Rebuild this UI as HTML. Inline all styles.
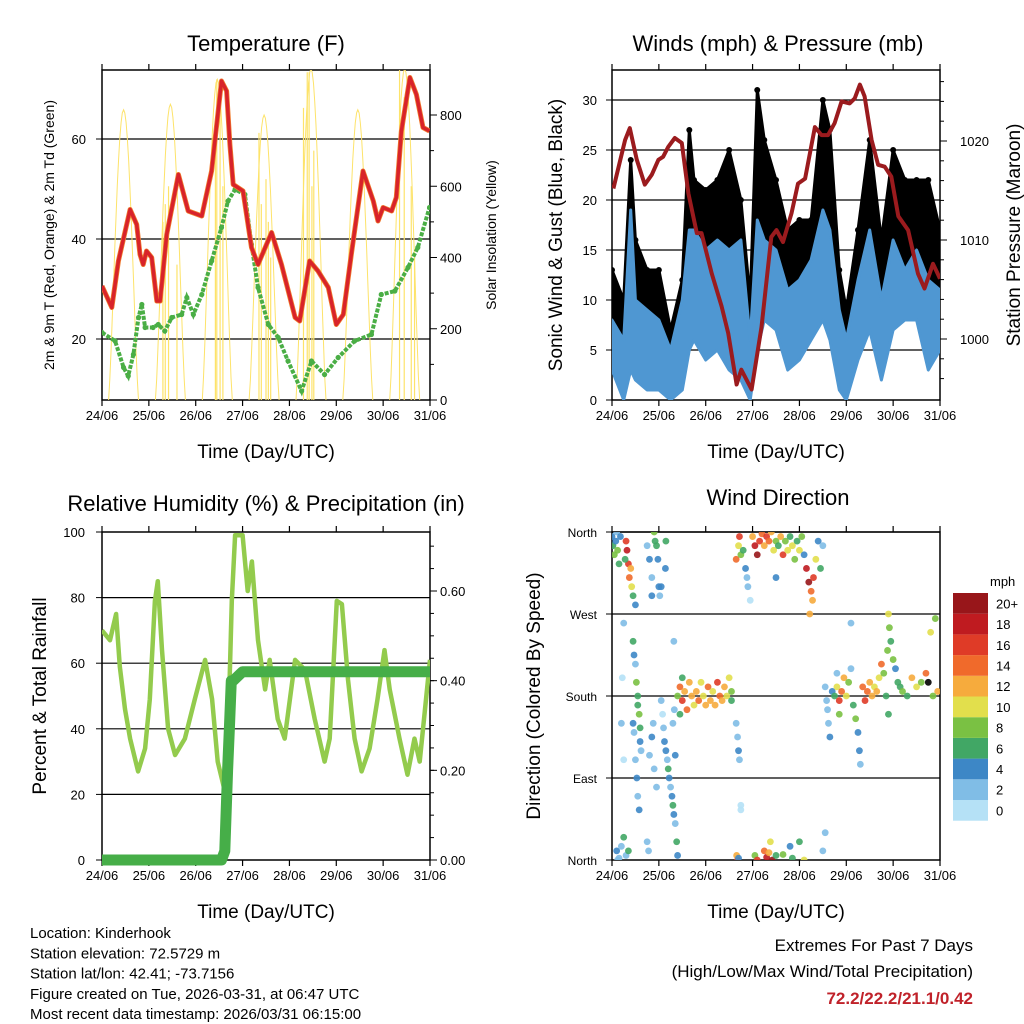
<!DOCTYPE html>
<html><head><meta charset="utf-8"><style>
html,body{margin:0;padding:0;background:#fff;}
svg{display:block;font-family:"Liberation Sans",Arial,sans-serif;}
</style></head><body>
<svg id="s" width="1024" height="1024" viewBox="0 0 1024 1024" xmlns="http://www.w3.org/2000/svg">
<defs>
<clipPath id="c1"><rect x="102" y="70" width="328" height="330"/></clipPath>
<clipPath id="c2"><rect x="612" y="70" width="328" height="330"/></clipPath>
<clipPath id="c3"><rect x="102" y="532" width="328" height="328"/></clipPath>
<clipPath id="c4"><rect x="612" y="532" width="328" height="328"/></clipPath>
</defs>
</svg>
<script>
// ---- data ----
const dayLabels=["24/06","25/06","26/06","27/06","28/06","29/06","30/06","31/06"];
const tempDays=[0,0.21,0.35,0.6,0.74,0.81,0.88,0.95,1.06,1.17,1.24,1.38,1.63,1.84,2.13,2.34,2.55,2.66,2.73,2.8,3.01,3.19,3.33,3.62,3.83,4.12,4.22,4.43,4.61,4.83,5.0,5.15,5.32,5.57,5.79,5.89,6.0,6.18,6.28,6.39,6.57,6.71,6.85,6.99];
const tempVals=[30.6,26.3,35.6,45.9,42.9,36.9,34.9,37.6,36.3,27.6,27.6,40.9,52.9,45.6,44.6,53.6,71.6,69.6,58.9,50.9,49.6,38.3,34.9,41.3,34.9,24.3,23.6,35.6,33.6,30.3,22.9,24.9,36.9,53.6,47.6,43.6,46.3,45.6,48.3,61.6,72.3,68.9,62.3,61.6];
const dewDays=[0,0.28,0.46,0.56,0.67,0.78,0.85,0.92,1.09,1.2,1.34,1.49,1.7,1.81,1.95,2.13,2.34,2.55,2.69,2.84,3.05,3.19,3.33,3.55,3.76,3.97,4.26,4.47,4.75,5.04,5.39,5.75,5.96,6.25,6.53,6.74,6.99];
const dewVals=[21.3,19.6,14.3,12.6,16.9,24.3,26.9,22.3,22.3,22.9,21.6,24.3,24.9,28.3,24.9,28.9,35.6,42.3,47.6,49.9,48.9,38.9,30.3,22.9,20.3,15.6,9.6,15.6,12.9,16.3,19.6,20.9,28.9,29.6,34.3,38.3,46.3];
const solarPeak=[815,830,900,800,930,815,930];
const spikeDays=[1.3,1.35,1.42,1.6,2.42,2.45,2.52,2.58,3.35,3.4,3.5,3.55,3.6,4.3,4.38,4.42,4.48,4.52,6.35,6.45,6.6,6.67];
const spikeVals=[500,550,600,380,700,900,850,600,750,550,620,500,400,820,920,920,600,700,927,850,600,400];
const presDays=[0.03,0.28,0.38,0.53,0.7,0.85,0.99,1.09,1.2,1.34,1.49,1.63,1.81,1.91,2.13,2.34,2.48,2.66,2.76,2.98,3.19,3.4,3.51,3.65,3.83,3.97,4.12,4.33,4.47,4.61,4.75,4.9,5.07,5.18,5.29,5.39,5.54,5.68,5.82,5.96,6.11,6.32,6.53,6.67,6.85,7.0];
const presVals=[1015.2,1020.1,1021.3,1018.1,1015.6,1016.6,1018.1,1018.4,1019.4,1020.3,1019.8,1014.7,1010.7,1010.7,1006.6,1003.3,1000.6,995.4,996.9,994.9,1001.2,1010.3,1011.0,1009.8,1012.7,1015.7,1016.2,1021.4,1020.6,1020.6,1021.8,1024.0,1023.8,1024.3,1025.7,1024.5,1020.1,1017.6,1017.4,1016.4,1012.4,1011.0,1006.6,1005.1,1007.6,1006.1];
const windDays=[0,0.25,0.4,0.5,0.75,1.0,1.25,1.5,1.65,1.75,2.0,2.25,2.5,2.75,2.95,3.1,3.25,3.5,3.75,4.0,4.25,4.5,4.65,4.85,5.0,5.25,5.5,5.75,6.0,6.25,6.5,6.75,7.0];
const windLow=[3,0,3,2,1,1,0,1,5,6,4,5,3,2,0,5,8,7,3,4,6,8,6,1,0,4,7,2,7,8,8,3,5];
const windHigh=[8,6,19,10,9,8,5,10,17,17,15,16,15,16,6,18,16,15,11,12,14,19,17,9,6,12,17,10,16,13,15,12,11];
const gustLow=[4,2,5,5,4,4,3,3,8,10,9,10,9,6,1,9,12,11,6,7,8,13,9,3,4,8,12,6,13,12,12,8,9];
const gustHigh=[13,10,24,16,13,13,7,12,27,22,21,22,25,20,10,31,26,22,17,18,18,30,27,13,9,17,26,16,25,22,22,22,17];
const rhDays=[0,0.17,0.3,0.38,0.49,0.6,0.77,0.92,1.02,1.13,1.19,1.28,1.41,1.56,1.77,1.98,2.2,2.35,2.47,2.62,2.69,2.77,2.84,3.0,3.11,3.2,3.33,3.48,3.58,3.75,3.9,4.01,4.12,4.33,4.54,4.75,4.86,5.01,5.12,5.25,5.39,5.54,5.71,5.88,6.03,6.14,6.35,6.52,6.67,6.78,7.0];
const rhVals=[70,67,75,59,46,37,27,34,49,79,85,64,40,32,37,49,61,49,30,21,37,79,99,99,82,91,67,52,61,43,37,49,61,58,43,30,37,79,78,55,37,27,34,49,64,52,37,26,37,30,61];
const precipDays=[0,2.55,2.62,2.68,2.72,2.76,2.8,3.0,7.0];
const precipVals=[0,0,0.02,0.2,0.3,0.4,0.4,0.42,0.42];
const dirDays=[0,0.02,0.05,0.08,0.1,0.12,0.15,0.18,0.3,0.32,0.35,0.37,0.4,0.42,0.45,0.5,0.28,0.8,0.85,0.75,0.9,0.92,0.95,0.98,1.0,1.02,1.05,1.15,1.14,0.85,0.1,0.15,0.2,0.25,0.3,0.35,0.12,0.25,0.22,0.2,0.25,0.45,0.47,0.5,0.52,0.55,0.55,0.58,0.6,0.6,0.5,0.53,0.55,0.58,0.45,0.47,0.62,0.75,0.78,0.8,0.85,0.88,0.9,0.95,1.05,1.08,1.1,1.12,1.15,1.18,1.2,1.22,1.25,1.28,1.3,1.32,1.35,1.3,1.33,1.35,1.32,1.38,1.4,1.4,1.45,1.5,1.55,1.6,1.65,1.7,1.75,1.8,1.85,1.9,1.95,2.0,2.05,2.1,2.15,2.2,2.25,2.3,2.35,2.4,2.45,2.5,2.55,2.55,1.45,1.5,2.65,2.68,2.7,2.72,2.75,2.68,2.66,2.7,2.65,2.7,2.72,2.75,2.8,2.85,2.9,2.95,2.88,3.0,3.05,3.1,3.15,3.2,3.25,3.3,3.35,3.4,3.45,3.5,3.55,3.6,3.65,3.7,3.75,3.8,3.85,3.9,3.95,4.0,4.05,4.1,4.15,4.2,4.25,4.28,4.3,4.35,4.4,4.45,4.5,3.5,4.22,3.05,3.1,3.25,3.3,3.35,3.38,3.42,3.5,3.65,3.8,3.85,4.0,4.5,4.55,4.1,2.75,4.55,4.58,4.6,4.62,4.65,4.7,4.75,4.8,4.85,4.9,4.95,5.0,5.05,5.1,5.15,5.2,5.25,5.28,5.3,5.35,5.4,4.8,4.85,5.45,5.5,5.55,5.6,5.65,5.7,5.75,5.8,5.85,5.9,5.92,5.95,6.0,6.05,6.1,6.15,6.2,6.3,5.1,5.88,5.9,6.4,6.5,6.6,6.7,6.8,6.9,6.95,6.85,6.75];
const dirVals=[355,345,335,350,360,340,325,355,350,340,325,310,320,300,290,280,330,330,310,345,360,350,345,330,300,290,300,350,320,290,10,2,15,25,5,10,0,260,200,150,110,240,225,215,195,180,170,160,145,130,110,90,70,55,150,140,120,20,10,115,135,150,100,80,175,160,145,130,120,110,100,90,80,70,60,50,40,150,165,115,240,20,5,180,190,175,185,165,195,180,170,185,175,195,180,170,190,175,185,170,195,180,175,190,180,200,185,175,160,200,150,135,120,110,60,0,5,2,330,345,355,335,340,320,300,285,310,355,345,335,350,358,345,355,350,360,340,350,345,355,335,350,340,355,345,330,350,340,355,335,320,305,295,285,310,330,350,320,345,310,270,5,0,10,3,8,20,0,5,6,15,2,20,10,30,0,55,190,175,165,150,135,185,180,190,175,185,200,180,195,210,170,155,140,120,105,190,175,205,160,185,195,180,190,185,200,215,205,180,270,255,240,220,210,195,190,185,180,260,230,160,200,190,195,205,250,265,185,180,195];
const dirSpeeds=[4,6,8,4,3,8,7,4,16,18,16,14,12,10,7,4,6,4,3,2,8,7,6,4,4,3,4,7,4,4,4,3,2,6,2,6,2,2,1,2,1,6,4,2,8,6,7,8,6,4,3,4,3,4,5,3,2,2,2,2,4,2,3,2,2,1,2,4,4,3,6,4,3,4,7,4,3,3,2,4,2,6,4,8,14,16,12,14,13,12,10,12,14,11,10,12,14,13,10,12,16,15,12,13,10,10,8,6,6,7,3,2,4,3,1,16,12,4,14,10,16,8,6,4,2,1,2,12,18,20,16,14,12,16,14,12,10,8,6,12,16,8,10,6,10,8,6,10,8,4,18,20,14,12,16,10,4,6,2,4,12,8,16,14,18,12,10,20,6,8,4,6,6,2,2,10,1,2,2,2,2,4,4,6,10,16,14,12,10,8,2,6,8,4,4,2,14,16,2,8,14,12,12,10,13,10,14,8,6,10,8,6,8,4,6,6,8,6,2,8,6,12,10,8,14,10,9,12,8];
const speedBins=["0","2","4","6","8","10","12","14","16","18","20+"];
const speedColors=["#b5e1f6","#80bde6","#3d87c6","#41a765","#7ac143","#e2df4c","#f6ab3d","#f06a2b","#df3b27","#bf1b20","#98161a"];

// ---- helpers ----
const S=document.getElementById('s');const NS='http://www.w3.org/2000/svg';
function mk(tag,attrs,parent){const e=document.createElementNS(NS,tag);for(const k in attrs)e.setAttribute(k,attrs[k]);(parent||S).appendChild(e);return e;}
function txt(x,y,str,size,anchor,extra){const e=mk('text',Object.assign({x:x,y:y,'font-size':size,'text-anchor':anchor||'middle',fill:'#000'},extra||{}));e.textContent=str;return e;}
function lin(d0,d1,p0,p1){return v=>p0+(v-d0)*(p1-p0)/(d1-d0);}
function pathFrom(xs,ys,fx,fy){return xs.map((d,i)=>(i?'L':'M')+fx(d).toFixed(1)+','+fy(ys[i]).toFixed(1)).join('');}

function frame(x0,y0,w,h,name){
  const g=mk('g',{});
  mk('rect',{x:x0,y:y0,width:w,height:h,fill:'none',stroke:'#000','stroke-width':1.5},g);
  const fx=lin(0,7,x0,x0+w);
  for(let i=0;i<8;i++){const x=fx(i);
    mk('line',{x1:x,y1:y0+h,x2:x,y2:y0+h+6,stroke:'#000','stroke-width':1.2},g);
    mk('line',{x1:x,y1:y0,x2:x,y2:y0-6,stroke:'#000','stroke-width':1.2},g);
    const t=txt(x,y0+h+20,dayLabels[i],13);}
  const xt=txt(x0+w/2,y0+h+58,'Time (Day/UTC)',19);
  return fx;
}
function hgrid(x0,w,ys){ys.forEach(y=>{const l=mk('line',{x1:x0,y1:y,x2:x0+w,y2:y,stroke:'#000','stroke-width':1.2});});}

// ================= Panel 1: Temperature =================
{
const fx=frame(102,70,328,330,'temperature');
const fy=lin(20,60,339,139);
const fs=lin(0,800,400,115);
const t=txt(266,51,'Temperature (F)',22);
hgrid(102,328,[fy(20),fy(40),fy(60)]);
[20,40,60].forEach(v=>{const l=txt(86,fy(v)+5,String(v),13,'end');mk('line',{x1:96,y1:fy(v),x2:102,y2:fy(v),stroke:'#000'});});
[0,200,400,600,800].forEach(v=>{const l=txt(440,fs(v)+5,String(v),13,'start');mk('line',{x1:430,y1:fs(v),x2:437,y2:fs(v),stroke:'#000'});});
for(let v=100;v<900;v+=200){mk('line',{x1:430,y1:fs(v),x2:434,y2:fs(v),stroke:'#000'});}
const yl=txt(0,0,'2m & 9m T (Red, Orange) & 2m Td (Green)',14,'middle',{transform:'translate(54,235) rotate(-90)'});
const yr=txt(0,0,'Solar Insolation (Yellow)',14,'middle',{transform:'translate(496,235) rotate(-90)'});
const g=mk('g',{'clip-path':'url(#c1)'});
let sp='';
solarPeak.forEach((pk,i)=>{const r=i+0.14,st=i+0.78;for(let k=0;k<=24;k++){const d=r+(st-r)*k/24;const v=pk*Math.pow(Math.sin(Math.PI*k/24),1.3);sp+=(k?'L':'M')+fx(d).toFixed(1)+','+fs(v).toFixed(1);}});
const so=mk('path',{d:sp,fill:'none',stroke:'#fde36a','stroke-width':1},g);
spikeDays.forEach((d,i)=>{const s=mk('line',{x1:fx(d),y1:fs(0),x2:fx(d),y2:fs(spikeVals[i]),stroke:'#fde36a','stroke-width':1.2},g);});
const dp=mk('path',{d:pathFrom(dewDays,dewVals,fx,fy),fill:'none',stroke:'#4aae45','stroke-width':4,'stroke-dasharray':'4 1.5'},g);
dewDays.forEach((d,i)=>{const c=mk('circle',{cx:fx(d),cy:fy(dewVals[i]),r:2.6,fill:'#4aae45'},g);});
const o=mk('path',{d:pathFrom(tempDays,tempVals,fx,fy),fill:'none',stroke:'#f07c2e','stroke-width':5,'stroke-linejoin':'round'},g);
const r=mk('path',{d:pathFrom(tempDays,tempVals,fx,fy),fill:'none',stroke:'#d8232a','stroke-width':3.5,'stroke-linejoin':'round'},g);
}

// ================= Panel 2: Winds =================
{
const fx=frame(612,70,328,330,'winds');
const fy=lin(0,30,400,100);
const fp=lin(1000,1020,339,141);
const t=txt(778,51,'Winds (mph) & Pressure (mb)',22);
hgrid(612,328,[5,10,15,20,25,30].map(fy));
[0,5,10,15,20,25,30].forEach(v=>{const l=txt(597,fy(v)+5,String(v),13,'end');mk('line',{x1:606,y1:fy(v),x2:612,y2:fy(v),stroke:'#000'});});
[1000,1010,1020].forEach(v=>{const l=txt(960,fp(v)+5,String(v),13,'start');mk('line',{x1:940,y1:fp(v),x2:947,y2:fp(v),stroke:'#000'});});
for(let v=996;v<1027;v+=2){mk('line',{x1:940,y1:fp(v),x2:944,y2:fp(v),stroke:'#000'});}
const yl=txt(0,0,'Sonic Wind & Gust (Blue, Black)',19,'middle',{transform:'translate(562,235) rotate(-90)'});
const yr=txt(0,0,'Station Pressure (Maroon)',19,'middle',{transform:'translate(1020,235) rotate(-90)'});
const g=mk('g',{'clip-path':'url(#c2)'});
function band(lo,hi,col,name){let d=pathFrom(windDays,hi,fx,fy);for(let i=windDays.length-1;i>=0;i--)d+='L'+fx(windDays[i]).toFixed(1)+','+fy(lo[i]).toFixed(1);d+='Z';const p=mk('path',{d:d,fill:col,stroke:col,'stroke-width':3,'stroke-linejoin':'round'},g);}
band(gustLow,gustHigh,'#000','gust-band');
windDays.forEach((d,i)=>{const c=mk('circle',{cx:fx(d),cy:fy(gustHigh[i]),r:3,fill:'#000'},g);});
band(windLow,windHigh,'#4f97d2','wind-band');
const p=mk('path',{d:pathFrom(presDays,presVals,fx,fp),fill:'none',stroke:'#9b1b1e','stroke-width':4,'stroke-linejoin':'round'},g);
}

// ================= Panel 3: RH & Precip =================
{
const fx=frame(102,532,328,328,'humidity');
const fy=lin(0,100,860,532);
const fr=lin(0,0.6,860,591);
const t=txt(266,511,'Relative Humidity (%) & Precipitation (in)',22);
hgrid(102,328,[20,40,60,80].map(fy));
[0,20,40,60,80,100].forEach(v=>{const l=txt(85,fy(v)+5,String(v),13,'end');mk('line',{x1:96,y1:fy(v),x2:102,y2:fy(v),stroke:'#000'});});
[0,0.2,0.4,0.6].forEach(v=>{const l=txt(440,fr(v)+5,v.toFixed(2),13,'start');mk('line',{x1:430,y1:fr(v),x2:437,y2:fr(v),stroke:'#000'});});
for(let v=0.05;v<0.72;v+=0.05){mk('line',{x1:430,y1:fr(v),x2:434,y2:fr(v),stroke:'#000'});}
const yl=txt(0,0,'Percent & Total Rainfall',19,'middle',{transform:'translate(46,696) rotate(-90)'});
const g=mk('g',{'clip-path':'url(#c3)'});
const rh=mk('path',{d:pathFrom(rhDays,rhVals,fx,fy),fill:'none',stroke:'#93cb4d','stroke-width':4.5,'stroke-linejoin':'round'},g);
const pr=mk('path',{d:pathFrom(precipDays,precipVals,fx,fr),fill:'none',stroke:'#46ae48','stroke-width':11,'stroke-linejoin':'round'},S);
}

// ================= Panel 4: Wind Direction =================
{
const fx=frame(612,532,328,328,'direction');
const fy=lin(0,360,860,532);
const t=txt(778,505,'Wind Direction',22);
hgrid(612,328,[90,180,270,360].map(fy));
const dirLabels=['North','East','South','West','North'];
[0,90,180,270,360].forEach((v,i)=>{const l=txt(597,fy(v)+5,dirLabels[i],12,'end');mk('line',{x1:606,y1:fy(v),x2:612,y2:fy(v),stroke:'#000'});});
const yl=txt(0,0,'Direction (Colored By Speed)',19,'middle',{transform:'translate(540,696) rotate(-90)'});
const g=mk('g',{'clip-path':'url(#c4)'});
dirDays.forEach((d,i)=>{const sp=dirSpeeds[i];const bi=Math.min(10,Math.floor(sp/2));
  const c=mk('circle',{cx:fx(d),cy:fy(dirVals[i]),r:3.4,fill:speedColors[bi],'fill-opacity':0.9},g);
  
  });
const lg=mk('g',{});
const mt=txt(990,586,'mph',13,'start');
const bh=20.7;
speedBins.forEach((lab,i)=>{const y=593+(10-i)*bh;
  const r=mk('rect',{x:953,y:y,width:35,height:bh,fill:speedColors[i]},lg);
  const l=txt(996,y+bh/2+5,lab,13,'start');});
}

// ================= Footer text =================
const info=['Location: Kinderhook','Station elevation: 72.5729 m','Station lat/lon: 42.41; -73.7156','Figure created on Tue, 2026-03-31, at 06:47 UTC','Most recent data timestamp: 2026/03/31 06:15:00'];
info.forEach((s,i)=>{const t=txt(30,938+i*20.3,s,15,'start');});
const e1=txt(973,951,'Extremes For Past 7 Days',17,'end');
const e2=txt(973,977,'(High/Low/Max Wind/Total Precipitation)',17,'end');
const e3=txt(973,1004,'72.2/22.2/21.1/0.42',17,'end',{fill:'#c0222a','font-weight':'bold'});
</script>
</body></html>
